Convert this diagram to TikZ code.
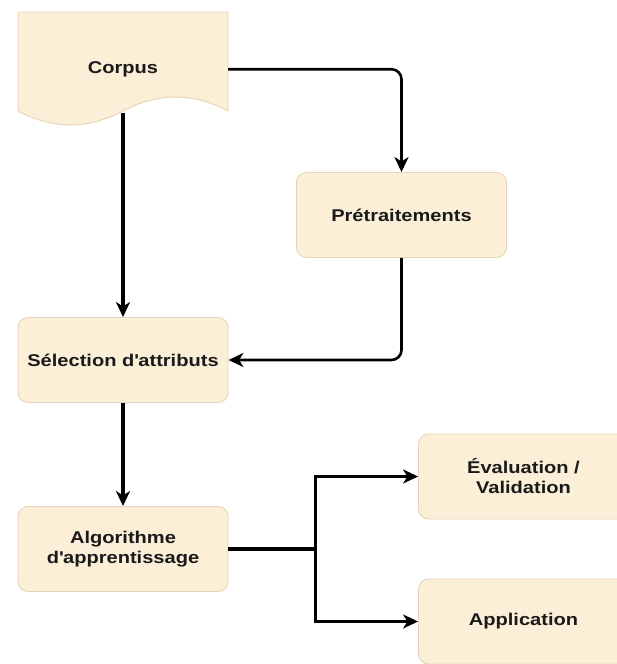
\documentclass[tikz,border=0pt]{standalone}
\usepackage{fontspec}
\setmainfont{Liberation Sans}[FakeStretch=1.18]
\usetikzlibrary{arrows.meta}
\definecolor{boxfill}{HTML}{FCEFD7}
\definecolor{boxline}{HTML}{E6D4B4}
\definecolor{txt}{HTML}{1A1A1A}
\begin{document}
\begin{tikzpicture}[x=1pt,y=-1pt,
  box/.style={draw=boxline, line width=0.9pt, fill=boxfill, rounded corners=10pt,
    minimum width=210pt, minimum height=85pt, align=center, text=txt,
    font=\fontsize{17}{20}\selectfont\bfseries},
  plain/.style={draw=none, minimum width=210pt, minimum height=114.5pt, text=txt,
    font=\fontsize{17}{20}\selectfont\bfseries},
  thick arrow/.style={line width=3.2pt, -{Stealth[length=15pt,width=14pt,inset=4.5pt]}},
  thin arrow/.style={line width=2.6pt, rounded corners=10pt, -{Stealth[length=15pt,width=14pt,inset=4.5pt]}},
  branch/.style={line width=3.2pt},
]
\useasboundingbox (0,0) rectangle (617,664);
\clip (0,0) rectangle (617,664);
\fill[white] (0,0) rectangle (617,664);
% document shape for Corpus
\draw[draw=boxline, line width=0.9pt, fill=boxfill]
  (18,12) -- (228,12) -- (228,111)
  .. controls (193,92.4) and (158,92.4) .. (123,111)
  .. controls (88,129.6) and (53,129.6) .. (18,111) -- cycle;
\node[plain] (corpus) at (123,69.25) {Corpus};
\node[box] (pret) at (401.5,215) {Prétraitements};
\node[box] (sel) at (123,360) {Sélection d\textquotesingle attributs};
\node[box] (alg) at (123,549) {Algorithme\\d\textquotesingle apprentissage};
\node[box] (eval) at (523.5,476.5) {Évaluation /\\Validation};
\node[box] (app) at (523.5,621.5) {Application};
% connectors
\draw[thick arrow] ([yshift=14pt]corpus.south) -- (sel.north);
\draw[thin arrow] (corpus.east) -| (pret.north);
\draw[thin arrow] (pret.south) |- (sel.east);
\draw[thick arrow] (sel.south) -- (alg.north);
\draw[branch] (alg.east) -- ++(87,0) coordinate (split);
\draw[thick arrow] (split) |- (eval.west);
\draw[thick arrow] (split) |- (app.west);
\end{tikzpicture}
\end{document}
